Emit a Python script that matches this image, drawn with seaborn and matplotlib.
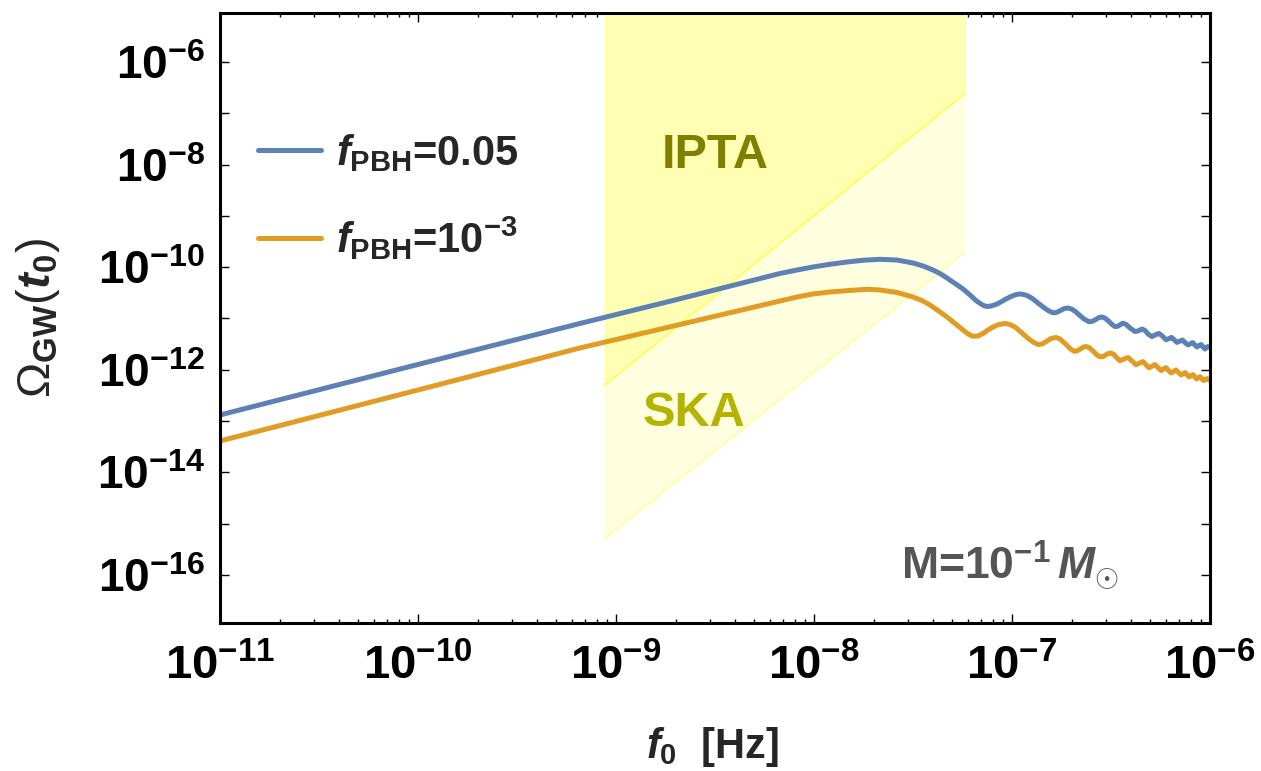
import numpy as np
import pandas as pd
import matplotlib
matplotlib.use("Agg")
import matplotlib.pyplot as plt
from matplotlib.ticker import FixedLocator, FuncFormatter, NullLocator
import seaborn as sns

# ---- data (log10 of frequency [Hz] and of Omega_GW) ----
log_f_a = [-11.000, -10.010, -9.182, -8.692, -8.172, -8.086, -8.005, -7.919, -7.833,
           -7.753, -7.667, -7.581, -7.500, -7.449, -7.399, -7.364, -7.328, -7.288,
           -7.247, -7.212, -7.182, -7.157, -7.141, -7.126, -7.106, -7.081, -7.056,
           -7.030, -7.005, -6.980, -6.960, -6.939, -6.919, -6.894, -6.869, -6.843,
           -6.818, -6.793, -6.778, -6.758, -6.737, -6.717, -6.697, -6.677, -6.657,
           -6.636, -6.611, -6.596, -6.576, -6.561, -6.545, -6.530, -6.510, -6.495,
           -6.480, -6.465, -6.449, -6.439, -6.424, -6.404, -6.379, -6.364, -6.343,
           -6.328, -6.313, -6.293, -6.278, -6.258, -6.242, -6.222, -6.207, -6.194,
           -6.182, -6.167, -6.152, -6.139, -6.126, -6.111, -6.099, -6.088, -6.076,
           -6.066, -6.056, -6.045, -6.035, -6.025, -6.018, -6.010, -6.000]
log_om_a = [-12.881, -11.906, -11.097, -10.630, -10.123, -10.055, -9.996, -9.943, -9.899,
            -9.865, -9.846, -9.860, -9.918, -9.977, -10.055, -10.123, -10.211, -10.318,
            -10.425, -10.542, -10.649, -10.717, -10.752, -10.766, -10.756, -10.727, -10.678,
            -10.620, -10.571, -10.534, -10.522, -10.534, -10.561, -10.620, -10.698, -10.776,
            -10.844, -10.889, -10.885, -10.850, -10.807, -10.795, -10.819, -10.873, -10.942,
            -11.010, -11.064, -11.057, -11.018, -10.982, -10.971, -10.994, -11.058, -11.117,
            -11.158, -11.150, -11.111, -11.092, -11.115, -11.185, -11.253, -11.244, -11.205,
            -11.234, -11.302, -11.353, -11.322, -11.291, -11.337, -11.415, -11.392, -11.368,
            -11.411, -11.466, -11.442, -11.419, -11.470, -11.516, -11.493, -11.470, -11.516,
            -11.556, -11.530, -11.507, -11.556, -11.595, -11.567, -11.546, -11.565]

log_f_b = [-11.000, -10.010, -9.182, -8.172, -8.086, -8.005, -7.919, -7.833, -7.732,
           -7.667, -7.581, -7.500, -7.455, -7.414, -7.374, -7.328, -7.288, -7.247,
           -7.222, -7.197, -7.172, -7.146, -7.121, -7.096, -7.066, -7.035, -7.010,
           -6.985, -6.955, -6.924, -6.894, -6.869, -6.848, -6.823, -6.803, -6.778,
           -6.758, -6.732, -6.707, -6.687, -6.672, -6.657, -6.641, -6.626, -6.611,
           -6.591, -6.571, -6.556, -6.540, -6.525, -6.513, -6.500, -6.485, -6.470,
           -6.455, -6.434, -6.414, -6.394, -6.374, -6.356, -6.338, -6.323, -6.308,
           -6.293, -6.278, -6.263, -6.247, -6.235, -6.222, -6.210, -6.197, -6.184,
           -6.172, -6.159, -6.146, -6.136, -6.126, -6.116, -6.106, -6.096, -6.086,
           -6.077, -6.068, -6.059, -6.051, -6.041, -6.033, -6.024, -6.015, -6.000]
log_om_b = [-13.388, -12.404, -11.575, -10.659, -10.581, -10.522, -10.483, -10.458, -10.431,
            -10.444, -10.493, -10.581, -10.649, -10.737, -10.844, -10.971, -11.097, -11.224,
            -11.302, -11.347, -11.341, -11.292, -11.224, -11.166, -11.117, -11.097, -11.117,
            -11.166, -11.263, -11.370, -11.458, -11.507, -11.497, -11.439, -11.390, -11.370,
            -11.400, -11.487, -11.585, -11.639, -11.634, -11.600, -11.559, -11.546, -11.565,
            -11.634, -11.712, -11.747, -11.741, -11.708, -11.682, -11.673, -11.702, -11.770,
            -11.825, -11.789, -11.760, -11.828, -11.903, -11.871, -11.840, -11.903, -11.961,
            -11.930, -11.899, -11.957, -12.014, -11.984, -11.957, -12.010, -12.062, -12.033,
            -12.004, -12.053, -12.101, -12.078, -12.055, -12.097, -12.140, -12.117, -12.094,
            -12.136, -12.179, -12.156, -12.133, -12.172, -12.209, -12.189, -12.172, -12.209]

series_labels = [r"$f_{\mathbf{PBH}}$=0.05", r"$f_{\mathbf{PBH}}$=10$^{\mathbf{-3}}$"]
series_colors = ["#5E81B5", "#E19C24"]

# PTA sensitivity regions: frequency edges and lower bounds (log10)
band_log_f = [-9.061, -7.235]
ipta_log_low = [-12.316, -6.604]
ska_log_low = [-15.298, -9.704]
band_log_top = -5.0

# axis decades
x_decades = [-11, -10, -9, -8, -7, -6]
y_decades = list(range(-16, -5))

# ---- styling ----
sns.set_theme(style="white")
plt.rcParams["font.family"] = ["Liberation Sans", "DejaVu Sans"]
plt.rcParams["font.weight"] = "bold"
plt.rcParams["mathtext.fontset"] = "custom"
plt.rcParams["mathtext.rm"] = "Liberation Sans:weight=normal"
plt.rcParams["mathtext.it"] = "Liberation Sans:bold:italic"
plt.rcParams["mathtext.bf"] = "Liberation Sans:bold"
plt.rcParams["mathtext.sf"] = "Liberation Sans:bold"

df = pd.concat([
    pd.DataFrame({"f": 10.0 ** np.array(log_f_a), "omega": 10.0 ** np.array(log_om_a),
                  "series": series_labels[0]}),
    pd.DataFrame({"f": 10.0 ** np.array(log_f_b), "omega": 10.0 ** np.array(log_om_b),
                  "series": series_labels[1]}),
], ignore_index=True)

fig = plt.figure(figsize=(12.61, 7.71), dpi=100)
ax = fig.add_axes([0.17446, 0.19196, 0.78509, 0.79118])
ax.set_xscale("log")
ax.set_yscale("log")

# sensitivity bands
bf = 10.0 ** np.array(band_log_f)
top = np.full(2, 10.0 ** band_log_top)
ska_low = 10.0 ** np.array(ska_log_low)
ipta_low = 10.0 ** np.array(ipta_log_low)
ax.fill_between(bf, ska_low, top, color="#FFFFE0", lw=0, zorder=1)
ax.fill_between(bf, ipta_low, top, color="#FFFFB3", lw=0, zorder=1.1)
ax.plot(bf, ska_low, color="#FFFF8C", lw=1.0, zorder=1.2)
ax.plot(bf, ipta_low, color="#FFFF40", lw=1.0, zorder=1.2)

sns.lineplot(data=df, x="f", y="omega", hue="series", hue_order=series_labels,
             palette=series_colors, linewidth=3.6, sort=False, estimator=None,
             ax=ax, zorder=3)
for ln in ax.get_lines():
    ln.set_solid_joinstyle("round")
    ln.set_solid_capstyle("butt")

ax.set_xlim(1e-11, 1e-6)
ax.set_ylim(10.0 ** -16.936, 10.0 ** -5.045)

# ticks: decades on both axes, 2..9 minor ticks on the frequency axis
x_major = [10.0 ** e for e in x_decades]
x_minor = [m * 10.0 ** e for e in x_decades[:-1] for m in range(2, 10)]
ax.xaxis.set_major_locator(FixedLocator(x_major))
ax.xaxis.set_minor_locator(FixedLocator(x_minor))
ax.yaxis.set_major_locator(FixedLocator([10.0 ** e for e in y_decades]))
ax.yaxis.set_minor_locator(NullLocator())


def xfmt(v, pos):
    e = int(round(np.log10(v)))
    return r"$\mathbf{10^{%d}}$" % e


def yfmt(v, pos):
    e = int(round(np.log10(v)))
    return r"$\mathbf{10^{%d}}$" % e if e % 2 == 0 else ""


ax.xaxis.set_major_formatter(FuncFormatter(xfmt))
ax.yaxis.set_major_formatter(FuncFormatter(yfmt))
ax.tick_params(which="both", direction="in", top=True, right=True, bottom=True,
               left=True, colors="black", width=1.0)
ax.tick_params(which="major", length=6.5)
ax.tick_params(which="minor", length=3.2)
ax.tick_params(axis="x", which="major", pad=15, labelsize=34)
ax.tick_params(axis="y", which="major", pad=11, labelsize=33)
for sp in ax.spines.values():
    sp.set_linewidth(2.2)
    sp.set_color("black")
    sp.set_zorder(5)

# axis labels
ax.set_xlabel(r"$f_{\mathbf{0}}$  [Hz]", fontsize=30, fontweight="bold")
ax.set_ylabel(r"$\Omega_{\mathbf{GW}}(t_{\mathbf{0}})$", fontsize=34)
ax.xaxis.set_label_coords(0.4975, -0.167)
ax.yaxis.set_label_coords(-0.160, 0.5)

# annotations
ax.text(0.5, 0.746, "IPTA", transform=ax.transAxes, ha="center", va="baseline",
        fontsize=35, fontweight="bold", color="#808000", zorder=2)
ax.text(0.479, 0.323, "SKA", transform=ax.transAxes, ha="center", va="baseline",
        fontsize=35, fontweight="bold", color="#B3B300", zorder=2)
ax.text(0.798, 0.0705, r"M=10$^{\mathbf{-1}}\,M_{\odot}$", transform=ax.transAxes,
        ha="center", va="baseline", fontsize=32, fontweight="bold", color="#555555",
        zorder=2)

# legend
sns.move_legend(ax, "upper left", bbox_to_anchor=(0.038, 0.805), frameon=False,
                title=None, prop={"size": 30, "weight": "bold"}, handlelength=1.53,
                handletextpad=0.34, labelspacing=0.98, borderpad=0.0, borderaxespad=0.0)

fig.savefig("out.png", dpi=100)
